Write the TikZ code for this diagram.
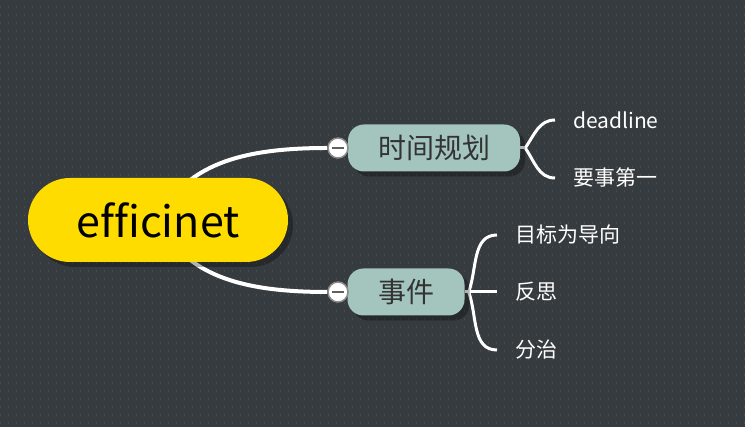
\documentclass[tikz,border=0pt]{standalone}
\usepackage{fontspec}
\newfontfamily\cjk[Ligatures=NoCommon]{Noto Sans CJK SC}
\usetikzlibrary{shadows}
\definecolor{mm-bg}{HTML}{363B3F}
\definecolor{mm-dot}{HTML}{454B50}
\definecolor{mm-yellow}{HTML}{FFDC00}
\definecolor{mm-teal}{HTML}{A3C5BE}
\definecolor{mm-text}{HTML}{333333}
\definecolor{mm-ring}{HTML}{8A8A8A}
\pgfdeclarelayer{grid}
\pgfdeclarelayer{links}
\pgfsetlayers{grid,links,main}
\tikzset{
  root/.style={rectangle, rounded corners=42pt, fill=mm-yellow,
    minimum width=260pt, minimum height=84pt, inner sep=0pt,
    font=\cjk\fontsize{43}{43}\selectfont, text=black,
    drop shadow={shadow xshift=5pt, shadow yshift=-5pt, fill=black, opacity=.3}},
  topic/.style={rectangle, rounded corners=16pt, fill=mm-teal,
    minimum height=47pt, inner sep=0pt,
    font=\cjk\fontsize{28}{28}\selectfont, text=mm-text,
    drop shadow={shadow xshift=5pt, shadow yshift=-5pt, fill=black, opacity=.3}},
  leaf/.style={anchor=west, inner xsep=18pt, inner ysep=0pt,
    font=\cjk\fontsize{21}{21}\selectfont, text=white},
  fold/.style={circle, fill=white, draw=mm-ring, line width=1.5pt,
    minimum size=20pt, inner sep=0pt,
    path picture={\draw[mm-ring!70!black, line width=1.5pt]
      ([xshift=-6pt]path picture bounding box.center) --
      ([xshift=6pt]path picture bounding box.center);}},
  branch-path/.style={white, line width=4pt},
  leaf-path/.style={white, line width=3pt},
}
\begin{document}
\begin{tikzpicture}[x=1pt, y=1pt]
\useasboundingbox (0,0) rectangle (745,427);
\begin{pgfonlayer}{grid}
\fill[mm-bg] (0,0) rectangle (745,427);
\foreach \y in {4,12,...,427}
  \draw[mm-dot, line width=1.2pt, dash pattern=on 1.2pt off 6.8pt] (0,\y) -- (745,\y);
\end{pgfonlayer}

\node[root] at (158, 207) (root) {efficinet};
\node[topic, minimum width=172pt] at (434, 279) (time plan) {时间规划};
\node[topic, minimum width=117pt] at (406, 135) (event) {事件};
\node[fold] at (338, 279) (fold-a) {};
\node[fold] at (338, 135) (fold-b) {};

\node[leaf] at (555, 307) (deadline) {deadline};
\node[leaf] at (555, 249) (first things) {要事第一};
\node[leaf] at (497, 192) (goal) {目标为导向};
\node[leaf] at (497, 135) (reflect) {反思};
\node[leaf] at (497, 77) (divide) {分治};

\begin{pgfonlayer}{links}
\draw[branch-path] (root.center) .. controls +(27,55) and +(-87,0) .. (fold-a.west);
\draw[branch-path] (root.center) .. controls +(27,-55) and +(-87,0) .. (fold-b.west);
\draw[branch-path] (fold-a) -- (time plan);
\draw[branch-path] (fold-b) -- (event);
% time plan
\draw[leaf-path] (time plan.east) -- ++(5,0) coordinate (fork-a);
\draw[leaf-path] (fork-a) to[out=55, in=180] (deadline.west);
\draw[leaf-path] (fork-a) to[out=-55, in=180] (first things.west);
% event
\draw[leaf-path] (event.east) -- ++(4,0) coordinate (fork-b);
\draw[leaf-path] (fork-b) to[out=70, in=180] (goal.west);
\draw[leaf-path] (fork-b) -- (reflect.west);
\draw[leaf-path] (fork-b) to[out=-70, in=180] (divide.west);
\end{pgfonlayer}
\end{tikzpicture}
\end{document}
